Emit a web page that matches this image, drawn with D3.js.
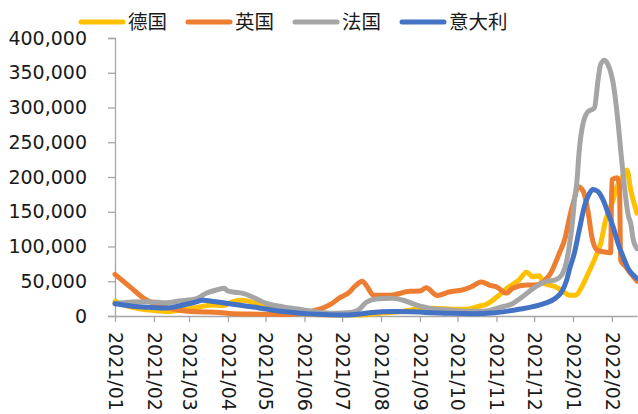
<!DOCTYPE html>
<html>
<head>
<meta charset="utf-8">
<script src="https://cdn.jsdelivr.net/npm/d3@7"></script>
<style>
html,body{margin:0;padding:0;background:#fff;}
svg{display:block;}
text{font-family:"DejaVu Sans","Noto Sans CJK SC",sans-serif;fill:#1a1a1a;}
</style>
</head>
<body>
<svg id="chart" width="638" height="414"></svg>
<script>
const seriesNames = ["德国", "英国", "法国", "意大利"];
const seriesColors = ["#FFC000", "#ED7D31", "#A5A5A5", "#4472C4"];
const yTicks = [0, 50000, 100000, 150000, 200000, 250000, 300000, 350000, 400000];
const xTickLabels = ["2021/01","2021/02","2021/03","2021/04","2021/05","2021/06","2021/07","2021/08","2021/09","2021/10","2021/11","2021/12","2022/01","2022/02"];

const germany = [
  ["2021-01-01",21000],["2021-01-08",16000],["2021-01-15",12500],["2021-01-28",8500],["2021-02-11",6500],
  ["2021-02-24",9000],["2021-03-09",13000],["2021-03-20",16000],["2021-03-28",15000],["2021-04-05",20500],
  ["2021-04-13",22500],["2021-04-21",19500],["2021-05-01",13500],["2021-05-17",6200],["2021-06-02",2900],
  ["2021-06-23",1400],["2021-07-15",1400],["2021-07-31",3800],["2021-08-16",6200],["2021-08-29",9600],
  ["2021-09-11",11000],["2021-09-27",9600],["2021-10-08",9600],["2021-10-18",14000],["2021-10-24",17000],
  ["2021-11-01",27000],["2021-11-11",42000],["2021-11-19",52000],["2021-11-25",63000],["2021-11-30",56500],
  ["2021-12-05",58000],["2021-12-09",47000],["2021-12-18",42000],["2021-12-26",33000],["2021-12-29",30000],
  ["2022-01-03",30000],["2022-01-08",42000],["2022-01-13",61000],["2022-01-19",85000],["2022-01-23",104000],
  ["2022-01-27",138000],["2022-02-02",167000],["2022-02-05",186000],["2022-02-09",200000],["2022-02-13",210000],
  ["2022-02-16",181000],["2022-02-19",160000],["2022-02-21",148000]
];
const uk = [
  ["2021-01-01",60000],["2021-01-13",42000],["2021-01-24",25500],["2021-02-01",18000],["2021-02-11",12000],
  ["2021-02-24",7500],["2021-03-09",6000],["2021-03-25",5000],["2021-04-05",3200],["2021-04-18",2800],
  ["2021-05-01",2500],["2021-05-17",2200],["2021-05-28",3500],["2021-06-07",7000],["2021-06-15",11000],
  ["2021-06-22",17000],["2021-06-29",26000],["2021-07-06",33000],["2021-07-12",44000],["2021-07-17",50000],
  ["2021-07-21",42000],["2021-07-26",30000],["2021-08-08",30000],["2021-08-24",35500],["2021-09-01",36000],
  ["2021-09-06",40500],["2021-09-15",29500],["2021-09-24",34500],["2021-10-05",37500],["2021-10-12",42000],
  ["2021-10-20",49000],["2021-10-27",44000],["2021-11-01",42000],["2021-11-09",33000],["2021-11-14",40000],
  ["2021-11-25",44500],["2021-12-02",44500],["2021-12-10",52000],["2021-12-14",61000],["2021-12-21",90000],
  ["2021-12-26",114000],["2021-12-29",140000],["2022-01-02",168000],["2022-01-05",186000],["2022-01-09",180000],
  ["2022-01-13",150000],["2022-01-16",114000],["2022-01-20",95000],["2022-01-25",92500],["2022-01-31",91000],
  ["2022-02-01",196000],["2022-02-05",199000],["2022-02-07",190000],["2022-02-08",80000],["2022-02-12",71000],
  ["2022-02-16",61000],["2022-02-21",50000]
];
const france = [
  ["2021-01-01",18000],["2021-01-15",20000],["2021-01-28",20500],["2021-02-11",19000],["2021-02-21",21500],
  ["2021-03-07",25000],["2021-03-15",33000],["2021-03-23",37500],["2021-03-29",40000],["2021-04-01",36000],
  ["2021-04-05",34500],["2021-04-13",32500],["2021-04-21",27000],["2021-05-01",18500],["2021-05-15",13000],
  ["2021-05-29",9500],["2021-06-10",6000],["2021-06-25",3800],["2021-07-08",5000],["2021-07-15",10000],
  ["2021-07-20",19500],["2021-07-28",24500],["2021-08-10",25500],["2021-08-18",23000],["2021-08-29",16000],
  ["2021-09-09",11000],["2021-09-22",9000],["2021-10-08",6800],["2021-10-22",7000],["2021-11-03",12000],
  ["2021-11-14",18000],["2021-11-22",28000],["2021-12-02",42000],["2021-12-10",49500],["2021-12-18",52000],
  ["2021-12-23",59000],["2021-12-27",80000],["2021-12-29",100000],["2022-01-01",143000],["2022-01-02",165000],
  ["2022-01-04",191000],["2022-01-06",239000],["2022-01-09",277000],["2022-01-13",294000],["2022-01-18",299000],
  ["2022-01-21",340000],["2022-01-23",362000],["2022-01-26",368000],["2022-01-29",361000],["2022-02-02",335000],
  ["2022-02-06",277000],["2022-02-08",239000],["2022-02-11",186000],["2022-02-14",145000],["2022-02-16",133000],
  ["2022-02-18",110000],["2022-02-21",97000]
];
const italy = [
  ["2021-01-01",17500],["2021-01-15",14000],["2021-01-28",12500],["2021-02-11",11500],["2021-02-21",14500],
  ["2021-03-05",19500],["2021-03-12",22500],["2021-03-20",21000],["2021-03-28",19000],["2021-04-05",17000],
  ["2021-04-15",14500],["2021-04-25",12000],["2021-05-05",9000],["2021-05-17",6000],["2021-06-02",3200],
  ["2021-06-20",1800],["2021-07-05",1500],["2021-07-15",2800],["2021-07-25",5000],["2021-08-10",6300],
  ["2021-08-25",6200],["2021-09-05",5200],["2021-09-25",3800],["2021-10-15",3300],["2021-10-28",4200],
  ["2021-11-10",7000],["2021-11-20",10000],["2021-11-30",13500],["2021-12-10",18500],["2021-12-18",25500],
  ["2021-12-23",35000],["2021-12-27",52000],["2021-12-29",66000],["2022-01-02",90000],["2022-01-06",124000],
  ["2022-01-10",157000],["2022-01-14",176000],["2022-01-17",182000],["2022-01-21",179000],["2022-01-25",167000],
  ["2022-01-29",148000],["2022-02-02",128000],["2022-02-06",104000],["2022-02-10",85000],["2022-02-14",68000],
  ["2022-02-18",59000],["2022-02-21",54000]
];
const allSeries = [germany, uk, france, italy];

const parse = d3.timeParse("%Y-%m-%d");
const parseTick = d3.timeParse("%Y/%m");
const svg = d3.select("#chart");
const plotLeft = 115, plotRight = 637, plotTop = 38, plotBottom = 316;

const x = d3.scaleTime()
  .domain([parse("2021-01-01"), parse("2022-02-21")])
  .range([plotLeft, plotRight]);
const y = d3.scaleLinear().domain([0, 400000]).range([plotBottom, plotTop]);

const axisColor = "#A6A6A6";

// Y axis
const yAxis = svg.append("g").attr("transform", `translate(${plotLeft},0)`)
  .call(d3.axisLeft(y).tickValues(yTicks).tickFormat(d3.format(",")).tickSize(7).tickPadding(21));
yAxis.select(".domain").attr("stroke", axisColor).attr("stroke-width", 1.3);
yAxis.selectAll(".tick line").attr("stroke", axisColor).attr("stroke-width", 1.3);
yAxis.selectAll("text").attr("font-size", "19px").attr("fill", "#1a1a1a")
  .style("font-family", '"DejaVu Sans",sans-serif');

// X axis
const xAxis = svg.append("g").attr("transform", `translate(0,${plotBottom})`)
  .call(d3.axisBottom(x).tickValues(xTickLabels.map(parseTick)).tickFormat(d3.timeFormat("%Y/%m")).tickSize(6).tickSizeOuter(0));
xAxis.select(".domain").attr("stroke", axisColor).attr("stroke-width", 1.3);
xAxis.selectAll(".tick line").attr("stroke", axisColor).attr("stroke-width", 1.3);
xAxis.selectAll("text")
  .attr("font-size", "19px").attr("fill", "#1a1a1a")
  .style("font-family", '"DejaVu Sans",sans-serif')
  .attr("text-anchor", "start")
  .attr("transform", "rotate(90)")
  .attr("x", 16).attr("y", 0).attr("dy", "0.36em");

// Lines
const line = d3.line()
  .x(d => x(parse(d[0])))
  .y(d => y(d[1]))
  .curve(d3.curveMonotoneX);

allSeries.forEach((s, i) => {
  svg.append("path")
    .datum(s)
    .attr("fill", "none")
    .attr("stroke", seriesColors[i])
    .attr("stroke-width", 5)
    .attr("stroke-linejoin", "round")
    .attr("stroke-linecap", "round")
    .attr("d", line);
});

// Legend
const legendX = [79, 186, 293, 400];
const legend = svg.append("g");
seriesNames.forEach((n, i) => {
  legend.append("line")
    .attr("x1", legendX[i] + 2).attr("x2", legendX[i] + 44)
    .attr("y1", 22).attr("y2", 22)
    .attr("stroke", seriesColors[i]).attr("stroke-width", 5)
    .attr("stroke-linecap", "round");
  legend.append("text")
    .attr("x", legendX[i] + 49).attr("y", 22).attr("dy", "0.36em")
    .attr("font-size", "19.5px")
    .style("font-family", '"Noto Sans CJK SC",sans-serif')
    .text(n);
});
</script>
</body>
</html>
